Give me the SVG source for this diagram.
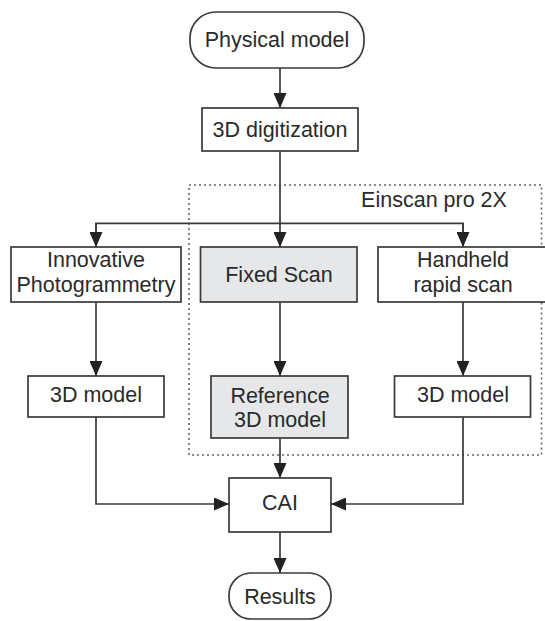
<svg xmlns="http://www.w3.org/2000/svg" width="545" height="621" viewBox="0 0 545 621">
<style>
.box{fill:#ffffff;stroke:#3a3a3a;stroke-width:1.7}
.grey{fill:#e6e7e8;stroke:#3a3a3a;stroke-width:1.7}
.t{font-family:"Liberation Sans",Arial,sans-serif;font-size:21.5px;fill:#2a2a2a;text-anchor:middle}
.c{fill:none;stroke:#3a3a3a;stroke-width:1.7}
.dot{fill:none;stroke:#666;stroke-width:1.6;stroke-dasharray:2 3}
</style>
<defs>
<marker id="ah" markerUnits="userSpaceOnUse" markerWidth="15" markerHeight="13" refX="15" refY="6.5" orient="auto" viewBox="0 0 15 13">
<path d="M0,0 L15,6.5 L0,13 Z" fill="#222"/>
</marker>
</defs>
<rect class="dot" x="189" y="185" width="352.5" height="270"/>
<text class="t" x="434" y="207">Einscan pro 2X</text>
<g id="connectors">
<line class="c" x1="280" y1="68" x2="280" y2="108" marker-end="url(#ah)"/>
<line class="c" x1="280" y1="151" x2="280" y2="247" marker-end="url(#ah)"/>
<polyline class="c" points="96,247 96,223.3 463,223.3 463,247"/>
<line class="c" x1="96" y1="223.3" x2="96" y2="247" marker-end="url(#ah)"/>
<line class="c" x1="463" y1="223.3" x2="463" y2="247" marker-end="url(#ah)"/>
<line class="c" x1="96" y1="302" x2="96" y2="376" marker-end="url(#ah)"/>
<line class="c" x1="280" y1="302" x2="280" y2="376" marker-end="url(#ah)"/>
<line class="c" x1="463" y1="302" x2="463" y2="376" marker-end="url(#ah)"/>
<line class="c" x1="280" y1="438" x2="280" y2="478" marker-end="url(#ah)"/>
<polyline class="c" points="96,417 96,504 229,504" marker-end="url(#ah)"/>
<polyline class="c" points="463,417 463,504 331,504" marker-end="url(#ah)"/>
<line class="c" x1="280" y1="532" x2="280" y2="573" marker-end="url(#ah)"/>
</g>
<g id="physical"><rect class="box" x="190" y="12" width="174" height="56" rx="26"/><text class="t" x="277" y="47">Physical model</text></g>
<g id="digitization"><rect class="box" x="202" y="108" width="156" height="43"/><text class="t" x="280" y="137">3D digitization</text></g>
<g id="photogrammetry"><rect class="box" x="11" y="247" width="170" height="55"/><text class="t" x="96" y="267">Innovative</text><text class="t" x="96" y="292">Photogrammetry</text></g>
<g id="fixedscan"><rect class="grey" x="200.5" y="247" width="156.5" height="55"/><text class="t" x="279" y="282">Fixed Scan</text></g>
<g id="handheld"><rect class="box" x="378" y="247" width="172" height="55"/><text class="t" x="463" y="267">Handheld</text><text class="t" x="463" y="292">rapid scan</text></g>
<g id="model1"><rect class="box" x="28" y="376" width="136" height="41"/><text class="t" x="96" y="402">3D model</text></g>
<g id="refmodel"><rect class="grey" x="211" y="376" width="137" height="62"/><text class="t" x="280" y="403">Reference</text><text class="t" x="280" y="427">3D model</text></g>
<g id="model2"><rect class="box" x="394.5" y="376" width="136" height="41"/><text class="t" x="463" y="402">3D model</text></g>
<g id="cai"><rect class="box" x="229" y="478" width="102" height="54"/><text class="t" x="280" y="510">CAI</text></g>
<g id="results"><rect class="box" x="229" y="573" width="102" height="46" rx="22"/><text class="t" x="280" y="604">Results</text></g>
</svg>
